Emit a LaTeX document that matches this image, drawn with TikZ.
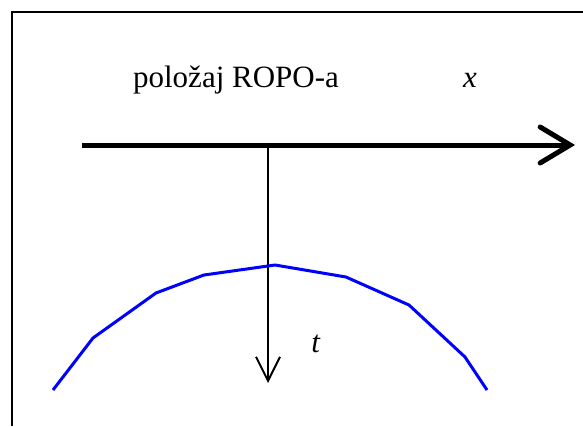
\documentclass[tikz,border=0pt]{standalone}
\usepackage{fontspec}
\setmainfont{Liberation Serif}
\usetikzlibrary{arrows.meta}

\begin{document}
\begin{tikzpicture}[x=1pt,y=-1pt,
    label/.style={anchor=base,inner sep=0pt,font=\fontsize{31}{36}\selectfont},
    axis/.style={line width=5pt,-{Straight Barb[length=30pt,width=36pt,line cap=round]}},
    timeaxis/.style={line width=2pt,-{Straight Barb[length=24pt,width=24pt]}},
    front/.style={draw=blue,line width=3pt,line join=round}
  ]
    \useasboundingbox (0,0) rectangle (583,426);
    \draw[line width=2pt] (12,426) -- (12,12) -- (583,12);

    \node[label] (pos) at (236,87) {položaj ROPO-a};
    \node[label] (xlab) at (470,87) {\textit{x}};
    \node[label] (tlab) at (316,352) {\textit{t}};

    \coordinate (xstart) at (82,145);
    \coordinate (xend) at (575,145);
    \coordinate (origin) at (268,145);
    \coordinate (tend) at (268,383);

    \draw[axis] (xstart) -- (xend);
    \draw[timeaxis] (origin) -- (tend);

    \draw[front] (53,390) -- (93,338) -- (156,293) -- (204,275) -- (275,265)
      -- (346,277) -- (409,305) -- (465,357) -- (487,390);
  \end{tikzpicture}
\end{document}
